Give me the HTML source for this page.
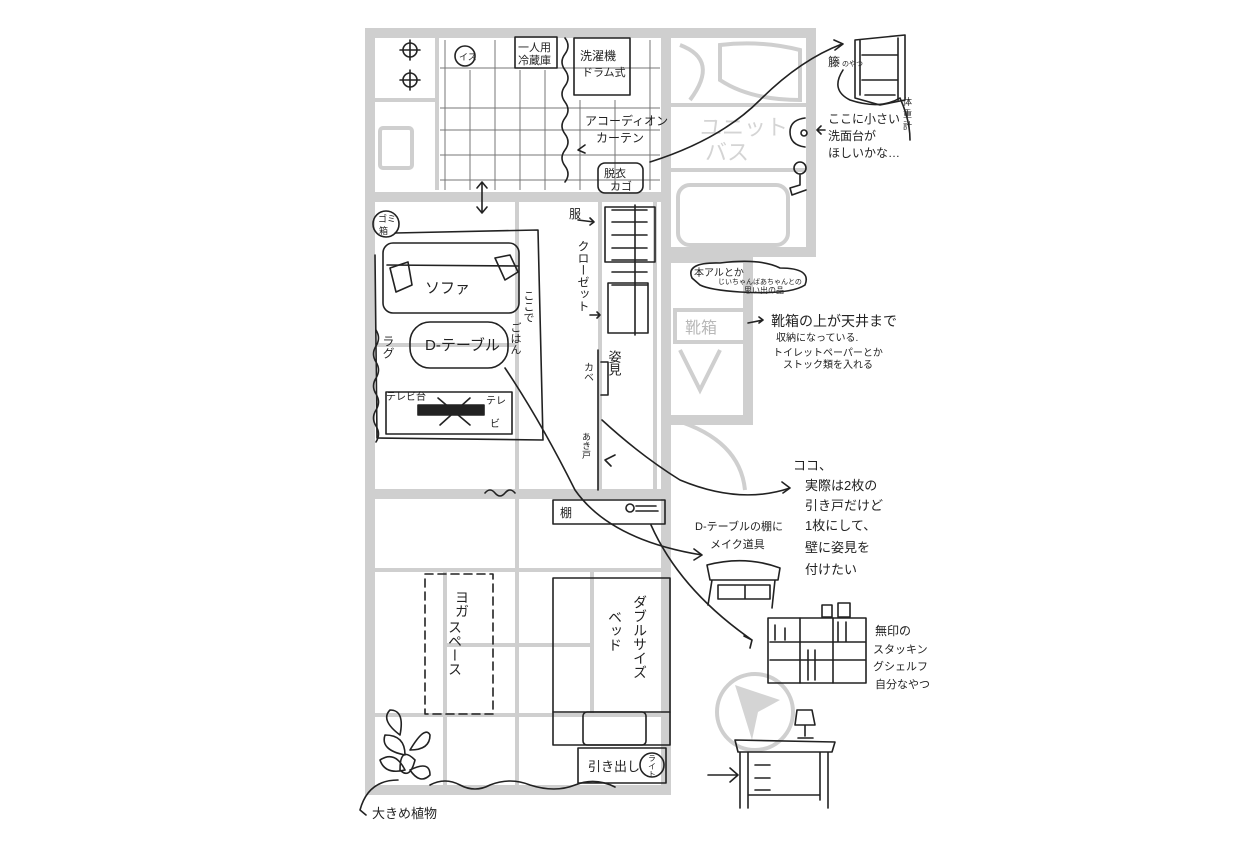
<!DOCTYPE html>
<html><head><meta charset="utf-8"><style>
html,body{margin:0;padding:0;background:#fff;}
svg{display:block}
text{font-family:"Liberation Sans","Noto Sans CJK JP",sans-serif;fill:#222}
.g{fill:none;stroke:#cfcfcf}
.k{fill:none;stroke:#222;stroke-width:1.6;stroke-linecap:round;stroke-linejoin:round}
.t{fill:none;stroke:#777;stroke-width:1}
</style></head><body>
<svg width="1260" height="841" viewBox="0 0 1260 841" xmlns="http://www.w3.org/2000/svg">
<!-- gray floor plan walls -->
<g class="g" stroke-width="10">
 <rect x="370" y="33" width="296" height="757"/>
 <polyline points="666,33 811,33 811,252 666,252"/>
 <polyline points="666,258 748,258 748,420 666,420"/>
 <line x1="370" y1="197" x2="666" y2="197"/>
 <line x1="370" y1="494" x2="666" y2="494"/>
</g>
<g class="g" stroke-width="4">
 <line x1="437" y1="38" x2="437" y2="190"/>
 <line x1="375" y1="100" x2="437" y2="100"/>
 <rect x="380" y="128" width="32" height="40" rx="3"/>
 <line x1="670" y1="105" x2="808" y2="105"/>
 <line x1="670" y1="170" x2="808" y2="170"/>
 <rect x="678" y="185" width="110" height="60" rx="12"/>
 <path d="M680,45 Q720,60 690,100"/>
 <path d="M720,45 Q760,40 800,50 L800,100 Q750,100 720,80Z"/>
 <rect x="675" y="310" width="70" height="32"/>
 <path d="M680,350 L700,390 L720,350"/>
 <path d="M675,420 Q740,440 745,490"/>
 <line x1="517" y1="200" x2="517" y2="490"/>
 <line x1="375" y1="345" x2="517" y2="345"/>
 <line x1="375" y1="570" x2="662" y2="570"/>
 <line x1="517" y1="498" x2="517" y2="786"/>
 <line x1="445" y1="570" x2="445" y2="786"/>
 <line x1="375" y1="715" x2="662" y2="715"/>
 <line x1="445" y1="645" x2="590" y2="645"/>
 <line x1="592" y1="570" x2="592" y2="715"/>
 <line x1="600" y1="200" x2="600" y2="490"/>
 <line x1="655" y1="200" x2="655" y2="490"/>
 <circle cx="755" cy="712" r="38"/>
</g>
<path d="M735,685 L780,700 L758,712 L752,740 Z" fill="#d4d4d4"/>
<text x="700" y="135" font-size="22" fill="#d0d0d0" style="fill:#d4d4d4">ユニット</text>
<text x="705" y="160" font-size="22" style="fill:#d4d4d4">バス</text>
<text x="685" y="333" font-size="16" style="fill:#b8b8b8">靴箱</text>

<!-- kitchen tiles -->
<g class="t">
 <line x1="445" y1="40" x2="445" y2="190"/><line x1="470" y1="70" x2="470" y2="190"/>
 <line x1="495" y1="40" x2="495" y2="190"/><line x1="520" y1="70" x2="520" y2="190"/>
 <line x1="545" y1="70" x2="545" y2="190"/><line x1="580" y1="100" x2="580" y2="190"/>
 <line x1="615" y1="100" x2="615" y2="190"/><line x1="650" y1="40" x2="650" y2="190"/>
 <line x1="440" y1="68" x2="660" y2="68"/><line x1="440" y1="108" x2="660" y2="108"/>
 <line x1="440" y1="130" x2="660" y2="130"/><line x1="440" y1="155" x2="660" y2="155"/>
 <line x1="440" y1="180" x2="660" y2="180"/>
</g>
<g class="k">
 <circle cx="410" cy="50" r="7"/><line x1="400" y1="50" x2="420" y2="50"/><line x1="410" y1="40" x2="410" y2="60"/>
 <circle cx="410" cy="80" r="7"/><line x1="400" y1="80" x2="420" y2="80"/><line x1="410" y1="70" x2="410" y2="90"/>
 <circle cx="465" cy="56" r="10"/>
 <rect x="515" y="37" width="42" height="31"/>
 <path d="M565,38 q6,8 0,16 q-6,8 0,16 q6,8 0,16 q-6,8 0,16 q6,8 0,16 q-6,8 0,16 q6,8 0,16 q-6,8 0,16 q6,8 0,16"/>
 <rect x="574" y="38" width="56" height="57"/>
 <path d="M585,145 l-7,5 l7,3"/>
 <rect x="598" y="163" width="45" height="30" rx="7"/>
 <path d="M482,183 L482,212 M477,188 L482,182 L487,188 M477,207 L482,213 L487,207"/>
 <!-- living -->
 <circle cx="386" cy="224" r="13"/>
 <path d="M395,233 L538,230 L543,440 L377,438 L375,255"/>
 <rect x="383" y="243" width="136" height="70" rx="10"/>
 <line x1="387" y1="265" x2="518" y2="266"/>
 <path d="M390,268 L408,262 L412,285 L396,292 Z"/>
 <path d="M495,258 L510,255 L518,272 L505,280 Z"/>
 <rect x="410" y="322" width="98" height="46" rx="20"/>
 <path d="M376,330 q5,8 0,16 q-5,8 0,16 q5,8 0,16 q-5,8 0,16 q5,8 0,16 q-5,8 0,16 q5,8 0,16"/>
 <rect x="386" y="392" width="126" height="42"/>
 <rect x="418" y="405" width="66" height="10" fill="#222"/>
 <path d="M438,398 L470,425 M440,425 L470,398"/>
 <!-- closet -->
 <rect x="605" y="207" width="50" height="55"/>
 <path d="M612,210 h35 M612,222 h35 M612,235 h35 M612,248 h35 M612,260 h35 M612,272 h35 M612,285 h35"/>
 <rect x="608" y="283" width="40" height="50"/>
 <line x1="635" y1="205" x2="635" y2="335"/>
 <path d="M578,220 l16,2 m-4,-4 l4,4 l-4,3"/>
 <path d="M590,315 l10,0 m-3,-3 l3,3 l-3,3"/>
 <!-- mirror -->
 <path d="M598,350 L598,490 M601,362 L608,362 L608,395 L601,395"/>
 <path d="M602,420 Q640,455 680,480 Q740,505 790,488 M782,482 l8,6 l-7,5"/>
 <path d="M605,460 l10,-5 M605,460 l6,6"/>
 <path d="M485,493 q5,-6 10,0 q5,6 10,0 q5,-6 10,0"/>
 <!-- kago arrow curve -->
 <path d="M650,162 Q720,140 760,100 Q800,60 842,44 M834,40 l9,4 l-8,6"/>
 <!-- tana -->
 <rect x="553" y="500" width="112" height="24"/>
 <circle cx="630" cy="508" r="4"/><path d="M636,506 h20 M636,511 h22"/>
 <path d="M505,368 Q540,420 575,490 Q610,540 702,555 M694,549 l8,6 l-8,5"/>
 <path d="M651,525 Q680,590 752,640 M744,636 l8,4 l-2,8"/>
 <!-- yoga -->
 <rect x="425" y="574" width="68" height="140" stroke-dasharray="8 5"/>
 <!-- bed -->
 <path d="M553,578 L670,578 L670,745 L553,745 Z"/>
 <line x1="553" y1="712" x2="670" y2="712"/>
 <rect x="583" y="712" width="63" height="33" rx="4"/>
 <rect x="578" y="748" width="88" height="35"/>
 <circle cx="652" cy="765" r="12"/>
 <!-- plant -->
 <path d="M400,735 q-20,-15 -10,-25 q15,0 10,25 M405,755 q-25,-5 -20,-20 q20,0 20,20 M410,750 q15,-25 20,-15 q0,15 -20,15 M405,770 q-20,5 -25,-10 q15,-10 25,10 M400,770 q0,-25 15,-10 q-5,20 -15,10 M410,770 q20,-10 20,5 q-10,10 -20,-5 M398,780 q-30,0 -38,30 l6,5"/>
 <path d="M430,785 q15,-8 30,0 q15,8 30,0 q20,-8 40,0 q25,8 45,0 q20,-8 40,2"/>
 <path d="M708,775 h30 m-8,-7 l8,7 l-8,7"/>
 <!-- desk -->
 <path d="M735,740 L835,742 L832,752 L738,752 Z M740,752 L740,808 M748,752 L748,808 M828,752 L828,808 M820,752 L820,800 M748,795 L820,795"/>
 <path d="M755,765 h15 M755,778 h15 M755,790 h15"/>
 <path d="M797,710 L812,710 L815,725 L795,725 Z M805,725 L805,736 M798,738 h15"/>
 <!-- small table -->
 <path d="M707,565 Q745,555 780,568 L778,580 L710,580 Z M712,580 L708,605 M775,580 L772,608 M718,585 h52 v14 h-52 Z M745,585 v14"/>
 <!-- bookshelf -->
 <rect x="768" y="618" width="98" height="65"/>
 <path d="M770,642 h95 M770,660 h95 M800,618 v65 M833,618 v65 M775,625 v15 M785,628 v12 M838,622 v20 M846,622 v20 M808,650 v30 M815,650 v30 M840,660 h20"/>
 <rect x="822" y="605" width="10" height="12"/><rect x="838" y="603" width="12" height="14"/>
 <!-- rattan cabinet -->
 <path d="M855,40 L905,35 L905,100 L880,105 L855,98 Z M860,40 L860,95 M898,38 L898,100 M862,55 h36 M862,80 h36 M865,95 h30"/>
 <path d="M843,70 Q830,90 850,100 Q880,110 900,98 Q910,120 910,140"/>
 <!-- sink -->
 <path d="M805,118 Q790,120 790,132 Q790,145 805,147"/><circle cx="804" cy="133" r="3"/>
 <circle cx="800" cy="168" r="6"/><path d="M800,175 L800,185 L790,188 L792,195 L806,190"/>
 <path d="M825,130 l-8,0 m4,-4 l-4,4 l4,4"/>
 <!-- bubble -->
 <path d="M692,278 Q685,262 720,263 Q760,258 780,268 Q812,268 805,285 Q790,295 740,292 Q710,290 700,285 Z"/>
 <path d="M748,323 l15,-3 m-4,-3 l4,3 l-4,3"/>
</g>
<g font-size="11">
 <text x="459" y="60" font-size="9">イス</text>
 <text x="518" y="51">一人用</text><text x="518" y="64">冷蔵庫</text>
 <text x="580" y="60" font-size="12">洗濯機</text><text x="582" y="76">ドラム式</text>
 <text x="585" y="125" font-size="12">アコーディオン</text><text x="596" y="142" font-size="12">カーテン</text>
 <text x="604" y="177">脱衣</text><text x="610" y="190">カゴ</text>
 <text x="378" y="222" font-size="9">ゴミ</text><text x="379" y="234" font-size="9">箱</text>
 <text x="425" y="293" font-size="15">ソファ</text>
 <text x="425" y="350" font-size="15">D-テーブル</text>
 <text x="386" y="400" font-size="10">テレビ台</text>
 <text x="486" y="404" font-size="10">テレ</text><text x="490" y="427" font-size="10">ビ</text>
 <text x="569" y="218" font-size="12">服</text>
 <text x="540" y="345" font-size="11" fill="#222">&#8203;</text>
</g>
<g font-size="12" style="writing-mode:vertical-rl">
 <text x="388" y="335">ラグ</text>
 <text x="528" y="290" font-size="11">ここで</text><text x="515" y="322" font-size="11">ごはん</text>
 <text x="583" y="240">クローゼット</text>
 <text x="587" y="362" font-size="10">カベ</text>
 <text x="614" y="350" font-size="13">姿見</text>
 <text x="586" y="432" font-size="9">あき戸</text>
 <text x="462" y="590" font-size="14">ヨガ</text><text x="455" y="620" font-size="14">スペース</text>
 <text x="640" y="595" font-size="14">ダブルサイズ</text><text x="615" y="610" font-size="14">ベッド</text>
 <text x="652" y="754" font-size="8">ライト</text>
</g>
<g font-size="12">
 <text x="560" y="517">棚</text>
 <text x="588" y="771" font-size="13">引き出し</text>
 <text x="372" y="818" font-size="13">大きめ植物</text>
 <text x="828" y="66" font-size="12">籐</text><text x="842" y="66" font-size="7">のやつ</text>
 <text x="903" y="105" font-size="9">体</text><text x="903" y="117" font-size="9">重</text><text x="903" y="129" font-size="9">計</text>
 <text x="828" y="123" font-size="12">ここに小さい</text>
 <text x="828" y="140" font-size="12">洗面台が</text>
 <text x="828" y="157" font-size="12">ほしいかな…</text>
 <text x="694" y="276" font-size="10">本アルとか</text>
 <text x="718" y="284" font-size="7">じいちゃんばあちゃんとの</text>
 <text x="744" y="293" font-size="8">思い出の品</text>
 <text x="771" y="326" font-size="14">靴箱の上が天井まで</text>
 <text x="776" y="341" font-size="10">収納になっている.</text>
 <text x="773" y="356" font-size="10">トイレットペーパーとか</text>
 <text x="783" y="368" font-size="10">ストック類を入れる</text>
 <text x="793" y="470" font-size="13">ココ、</text>
 <text x="805" y="490" font-size="13">実際は2枚の</text>
 <text x="805" y="510" font-size="13">引き戸だけど</text>
 <text x="805" y="530" font-size="13">1枚にして、</text>
 <text x="805" y="552" font-size="13">壁に姿見を</text>
 <text x="805" y="574" font-size="13">付けたい</text>
 <text x="695" y="530" font-size="11">D-テーブルの棚に</text>
 <text x="710" y="548" font-size="11">メイク道具</text>
 <text x="875" y="635" font-size="12">無印の</text>
 <text x="873" y="653" font-size="11">スタッキン</text>
 <text x="873" y="670" font-size="11">グシェルフ</text>
 <text x="875" y="688" font-size="11">自分なやつ</text>
</g>
</svg>
</body></html>
